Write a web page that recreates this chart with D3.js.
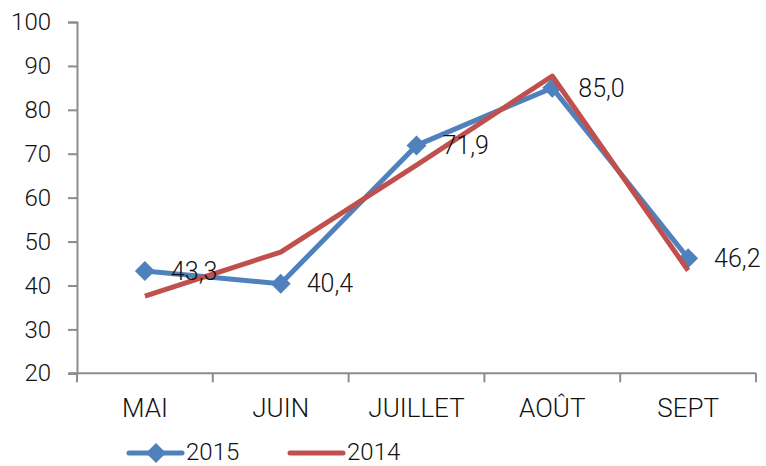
<!DOCTYPE html>
<html>
<head>
<meta charset="utf-8">
<script src="https://cdn.jsdelivr.net/npm/d3@7"></script>
<style>
  body { margin: 0; background: #fff; }
  text { font-family: Roboto, "Liberation Sans", sans-serif; font-weight: 300; fill: #111; }
</style>
</head>
<body>
<div id="chart"></div>
<script>
const months = ['MAI', 'JUIN', 'JUILLET', 'AOÛT', 'SEPT'];
const values2015 = [43.3, 40.4, 71.9, 85.0, 46.2];
const values2014 = [37.6, 47.6, 67.4, 87.7, 43.4];
const yTicks = [20, 30, 40, 50, 60, 70, 80, 90, 100];

const width = 766, height = 466;
const margin = { top: 22, right: 10, bottom: 93, left: 77 };
const innerW = 756 - margin.left;
const innerH = 373.3 - margin.top;

const svg = d3.select('#chart')
    .append('svg')
    .attr('width', width)
    .attr('height', height);

const g = svg.append('g')
    .attr('transform', `translate(${margin.left}, ${margin.top})`);

const xScale = d3.scaleBand()
    .domain(months)
    .range([0, innerW])
    .padding(0);

const yScale = d3.scaleLinear()
    .domain([20, 100])
    .range([innerH, 0]);

const cx = d => xScale(d) + xScale.bandwidth() / 2;

// y axis
const yAxis = d3.axisLeft(yScale).tickValues(yTicks).tickSize(9).tickPadding(17);
g.append('g').attr('class', 'y-axis').call(yAxis);

// x axis: ticks sit on the band edges
const xAxisG = g.append('g').attr('class', 'x-axis')
    .attr('transform', `translate(0, ${innerH})`);
xAxisG.append('line')
    .attr('x1', -8).attr('x2', innerW)
    .attr('y1', 0).attr('y2', 0);
const bounds = months.map(m => xScale(m)).concat([innerW]);
xAxisG.selectAll('.tickmark')
    .data(bounds)
    .enter().append('line')
    .attr('class', 'tickmark')
    .attr('x1', d => d).attr('x2', d => d)
    .attr('y1', 0).attr('y2', 9);
xAxisG.selectAll('.lbl')
    .data(months)
    .enter().append('text')
    .attr('class', 'lbl')
    .attr('x', d => cx(d))
    .attr('y', 44)
    .attr('text-anchor', 'middle')
    .style('font-size', '26px')
    .text(d => d);

svg.selectAll('.domain, .tick line, .x-axis line')
    .style('stroke', '#8c8c8c')
    .style('stroke-width', '2px');
svg.selectAll('.y-axis text')
    .style('font-size', '24px')
    .style('font-family', 'Roboto, "Liberation Sans", sans-serif')
    .style('font-weight', '300')
    .style('fill', '#111');

// lines
const line = d3.line()
    .x((d, i) => cx(months[i]))
    .y(d => yScale(d));

g.append('path')
    .datum(values2015)
    .attr('d', line)
    .style('fill', 'none')
    .style('stroke', '#4F81BD')
    .style('stroke-width', '5px')
    .style('stroke-linejoin', 'round');

const diamond = d3.symbol().type(d3.symbolSquare).size(200);
g.selectAll('.marker')
    .data(values2015)
    .enter().append('path')
    .attr('class', 'marker')
    .attr('d', diamond)
    .attr('transform', (d, i) => `translate(${cx(months[i])}, ${yScale(d)}) rotate(45)`)
    .style('fill', '#4F81BD');

g.append('path')
    .datum(values2014)
    .attr('d', line)
    .style('fill', 'none')
    .style('stroke', '#C0504D')
    .style('stroke-width', '5px')
    .style('stroke-linejoin', 'round');

// data labels
g.selectAll('.dlabel')
    .data(values2015)
    .enter().append('text')
    .attr('class', 'dlabel')
    .attr('x', (d, i) => cx(months[i]) + 26)
    .attr('y', d => yScale(d))
    .attr('dy', '0.35em')
    .style('font-size', '25px')
    .text(d => d.toFixed(1).replace('.', ','));

// legend
const legend = svg.append('g').attr('transform', 'translate(0, 453)');
legend.append('line')
    .attr('x1', 129).attr('x2', 182).attr('y1', 0).attr('y2', 0)
    .style('stroke', '#4F81BD').style('stroke-width', '5px').style('stroke-linecap', 'round');
legend.append('path')
    .attr('d', diamond)
    .attr('transform', 'translate(156, 0) rotate(45)')
    .style('fill', '#4F81BD');
legend.append('text')
    .attr('x', 186).attr('y', 7)
    .style('font-size', '24px')
    .text('2015');
legend.append('line')
    .attr('x1', 290).attr('x2', 343).attr('y1', 0).attr('y2', 0)
    .style('stroke', '#C0504D').style('stroke-width', '5px').style('stroke-linecap', 'round');
legend.append('text')
    .attr('x', 347).attr('y', 7)
    .style('font-size', '24px')
    .text('2014');
</script>
</body>
</html>
